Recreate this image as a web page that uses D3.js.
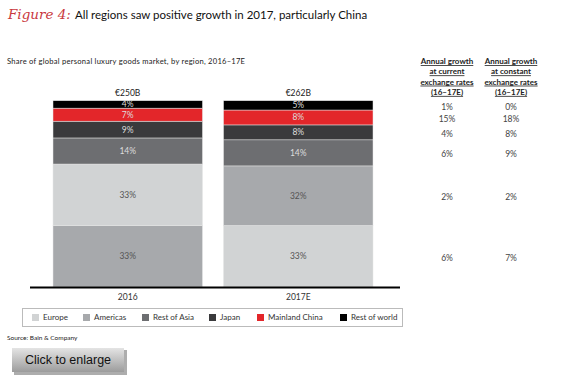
<!DOCTYPE html>
<html>
  <head>
    <meta charset="utf-8">
    <style>
      body { margin: 0; background: #fff; }
      svg text { font-family: Lato, "Open Sans", sans-serif; }
      .seg-label { font-size: 8.5px; }
      .head { font-size: 8px; font-weight: bold; text-decoration: underline; fill: #222; }
      .growth { font-size: 8.5px; fill: #444; }
      .legend text { font-size: 8px; fill: #333; }
    </style>
  </head>
  <body>
    <script src="https://d3js.org/d3.v7.min.js"></script>
    <script>
    var width = 567, height = 389;

    // data
    var years = ["2016", "2017E"];
    var totals = ["€250B", "€262B"];
    var regions = ["Europe", "Americas", "Rest of Asia", "Japan", "Mainland China", "Rest of world"];
    var colors = ["#d1d3d4", "#a7a9ac", "#6d6e71", "#3a3a3c", "#e3262a", "#000000"];
    var share2016 = [33, 33, 14, 9, 7, 4];
    var share2017 = [33, 32, 14, 8, 8, 5];
    // stacking order bottom -> top (indexes into regions), differs per bar in the original
    var order2016 = [1, 0, 2, 3, 4, 5];
    var order2017 = [0, 1, 2, 3, 4, 5];
    var growthCurrent = ["6%", "2%", "6%", "4%", "15%", "1%"];   // per region
    var growthConstant = ["7%", "2%", "9%", "8%", "18%", "0%"];
    var growthHeader1 = ["Annual growth", "at current", "exchange rates", "(16–17E)"];
    var growthHeader2 = ["Annual growth", "at constant", "exchange rates", "(16–17E)"];

    var svg = d3.select("body").append("svg")
        .attr("width", width)
        .attr("height", height);

    var x = d3.scaleBand().domain(years).range([53, 373]).paddingInner(21 / 170);
    var y = d3.scaleLinear().domain([0, 100]).range([287, 100.7]);

    // title
    var title = svg.append("text").attr("x", 8).attr("y", 19);
    title.append("tspan")
        .style("font-family", "'DejaVu Serif', serif")
        .style("font-style", "italic")
        .style("font-size", "13.5px")
        .attr("fill", "#c9383e")
        .text("Figure 4:");
    title.append("tspan")
        .attr("dx", 4)
        .style("font-size", "11.5px")
        .attr("fill", "#111")
        .text("All regions saw positive growth in 2017, particularly China");

    svg.append("text")
        .attr("x", 7).attr("y", 64)
        .style("font-size", "7.6px")
        .attr("fill", "#222")
        .attr("textLength", 238)
        .text("Share of global personal luxury goods market, by region, 2016–17E");

    // build stacked segments
    var bars = [
      { year: years[0], total: totals[0], share: share2016, order: order2016 },
      { year: years[1], total: totals[1], share: share2017, order: order2017 }
    ];
    var segs = [];
    bars.forEach(function(b) {
      var acc = 0;
      b.order.forEach(function(r) {
        segs.push({ year: b.year, region: r, y0: acc, y1: acc + b.share[r], v: b.share[r] });
        acc += b.share[r];
      });
    });

    var g = svg.append("g");
    g.selectAll("rect")
      .data(segs)
      .enter().append("rect")
        .attr("x", function(d) { return x(d.year); })
        .attr("width", x.bandwidth())
        .attr("y", function(d) { return y(d.y1); })
        .attr("height", function(d) { return y(d.y0) - y(d.y1); })
        .attr("fill", function(d) { return colors[d.region]; })
        .attr("stroke", "#e6e6e6")
        .attr("stroke-width", 0.5);

    g.selectAll("text.seg-label")
      .data(segs)
      .enter().append("text")
        .attr("class", "seg-label")
        .attr("x", function(d) { return x(d.year) + x.bandwidth() / 2; })
        .attr("y", function(d) { return (y(d.y0) + y(d.y1)) / 2; })
        .attr("dy", "0.35em")
        .attr("text-anchor", "middle")
        .attr("fill", function(d) { return d.region < 2 ? "#555" : "#ddd"; })
        .text(function(d) { return d.v + "%"; });

    // totals above bars
    svg.selectAll("text.total")
      .data(bars)
      .enter().append("text")
        .attr("class", "total")
        .attr("x", function(d) { return x(d.year) + x.bandwidth() / 2; })
        .attr("y", y(100) - 5)
        .attr("text-anchor", "middle")
        .style("font-size", "8.5px")
        .attr("fill", "#222")
        .text(function(d) { return d.total; });

    // baseline + x axis
    svg.append("line")
        .attr("x1", 30).attr("x2", 400)
        .attr("y1", y(0) + 0.5).attr("y2", y(0) + 0.5)
        .attr("stroke", "#000").attr("stroke-width", 2);

    var xAxis = svg.append("g")
        .attr("transform", "translate(0," + (y(0) + 1) + ")")
        .call(d3.axisBottom(x).tickSize(0).tickPadding(6));
    xAxis.select(".domain").remove();
    xAxis.selectAll("text").style("font-size", "8.5px").attr("fill", "#333")
        .style("font-family", "Lato, sans-serif");

    // growth columns, aligned with 2017E segments
    var colX = [447, 511];
    var heads = [growthHeader1, growthHeader2];
    heads.forEach(function(lines, i) {
      svg.selectAll(null)
        .data(lines)
        .enter().append("text")
          .attr("class", "head")
          .attr("x", colX[i])
          .attr("y", function(d, j) { return 64 + j * 10.3; })
          .attr("text-anchor", "middle")
          .text(function(d) { return d; });
    });
    var seg17 = segs.filter(function(d) { return d.year === years[1]; });
    [growthCurrent, growthConstant].forEach(function(vals, i) {
      svg.selectAll(null)
        .data(seg17)
        .enter().append("text")
          .attr("class", "growth")
          .attr("x", colX[i])
          .attr("y", function(d) { return (y(d.y0) + y(d.y1)) / 2 + 1.5; })
          .attr("dy", "0.35em")
          .attr("text-anchor", "middle")
          .text(function(d) { return vals[d.region]; });
    });

    // legend
    var legendX = [32, 83, 142, 209, 257, 340];
    var legend = svg.append("g").attr("class", "legend");
    legend.append("rect")
        .attr("x", 22.5).attr("y", 308.5)
        .attr("width", 380).attr("height", 18)
        .attr("fill", "none").attr("stroke", "#bbb");
    var items = legend.selectAll("g.item")
        .data(regions)
        .enter().append("g")
          .attr("transform", function(d, i) { return "translate(" + legendX[i] + ",317.5)"; });
    items.append("rect")
        .attr("y", -3.5).attr("width", 7).attr("height", 7)
        .attr("fill", function(d, i) { return colors[i]; });
    items.append("text")
        .attr("x", 11).attr("dy", "0.35em")
        .text(function(d) { return d; });

    svg.append("text")
        .attr("x", 7).attr("y", 340)
        .style("font-size", "6.5px")
        .attr("fill", "#222")
        .text("Source: Bain & Company");

    // "Click to enlarge" button
    var defs = svg.append("defs");
    var grad = defs.append("linearGradient").attr("id", "btn").attr("x1", 0).attr("y1", 0).attr("x2", 0).attr("y2", 1);
    grad.append("stop").attr("offset", "0%").attr("stop-color", "#e4e4e4");
    grad.append("stop").attr("offset", "100%").attr("stop-color", "#9c9c9c");
    svg.append("rect")
        .attr("x", 14).attr("y", 350).attr("width", 113).attr("height", 25)
        .attr("fill", "#777").attr("opacity", 0.6);
    svg.append("rect")
        .attr("x", 12).attr("y", 348).attr("width", 112).attr("height", 24)
        .attr("fill", "url(#btn)");
    svg.append("text")
        .attr("x", 68).attr("y", 360).attr("dy", "0.35em")
        .attr("text-anchor", "middle")
        .style("font-family", "'Liberation Sans', Arial, sans-serif")
        .style("font-size", "12.5px")
        .attr("fill", "#111")
        .text("Click to enlarge");
    </script>
  </body>
</html>
